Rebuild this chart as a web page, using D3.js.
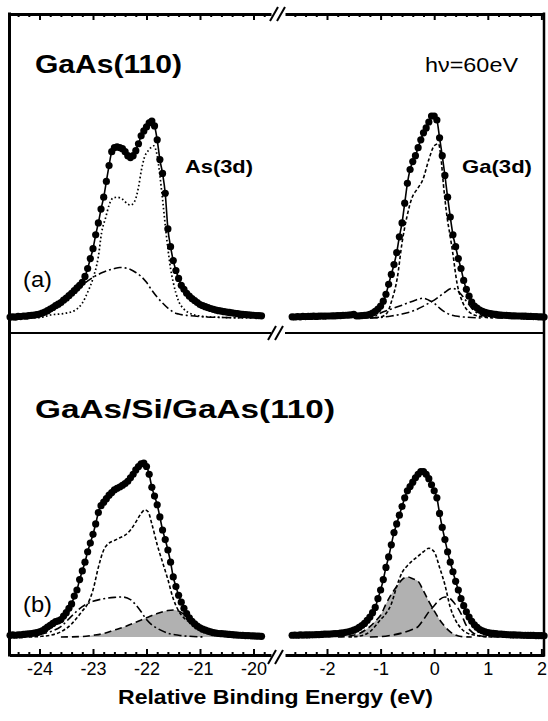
<!DOCTYPE html>
<html>
<head>
<meta charset="utf-8">
<script src="https://cdn.jsdelivr.net/npm/d3@7"></script>
<style>
body { margin: 0; background: #fff; }
text { font-family: "Liberation Sans", Arial, Helvetica, sans-serif; fill: #000; }
</style>
</head>
<body>
<div class="chart"></div>
<script>
// sampling grid of the measured spectra (eV)
var asStart = -24.55, gaStart = -2.65, eStep = 0.05;

// measured intensities (dots), normalised
var asA_data = [.005,.006,.004,.008,.007,.010,.009,.012,.013,.015,.017,.020,.025,.030,.037,.045,.053,.062,.070,.078,
  .090,.100,.113,.125,.138,.152,.165,.18,.21,.25,.30,.35,.42,.48,.55,.61,.69,.77,.84,.86,
  .865,.86,.855,.84,.82,.81,.82,.845,.88,.92,.945,.965,.985,.995,.97,.90,.80,.73,.63,.45,
  .36,.29,.24,.20,.165,.145,.125,.11,.098,.088,.078,.068,.062,.057,.052,.048,.044,.040,.037,.035,
  .032,.030,.028,.026,.024,.022,.020,.018,.017,.016,.015,.014,.012,.012,.011];
var gaA_data = [.006,.005,.007,.006,.008,.007,.008,.008,.009,.008,.009,.010,.009,.010,.010,.011,.011,.012,.012,.013,
  .014,.015,.016,.018,.010,.011,.012,.013,.015,.018,.025,.033,.045,.060,.085,.12,.17,.22,.27,.33,
  .41,.48,.58,.68,.75,.79,.82,.86,.90,.935,.96,.99,1.02,1.02,1.00,.91,.82,.72,.61,.51,
  .42,.36,.30,.25,.19,.145,.11,.08,.06,.05,.04,.033,.028,.025,.022,.020,.018,.016,.015,.014,
  .013,.012,.011,.011,.010,.010,.009,.009,.008,.008,.007,.007,.006,.006,.005];
var asB_data = [.010,.012,.010,.013,.012,.015,.016,.018,.020,.022,.025,.030,.036,.045,.057,.067,.078,.088,.093,.100,
  .12,.14,.165,.19,.235,.27,.33,.38,.43,.49,.54,.59,.65,.715,.755,.775,.795,.815,.83,.845,
  .855,.862,.872,.882,.895,.915,.935,.96,.98,.995,1.0,.98,.935,.86,.81,.76,.69,.615,.56,.50,
  .43,.345,.29,.24,.20,.165,.135,.11,.09,.075,.062,.053,.045,.039,.034,.029,.025,.022,.020,.019,
  .018,.016,.015,.014,.012,.011,.010,.009,.008,.008,.007,.006,.005,.005,.004];
var gaB_data = [.010,.011,.010,.012,.011,.012,.012,.013,.013,.014,.014,.015,.016,.016,.017,.018,.019,.020,.022,.024,
  .027,.030,.034,.039,.046,.055,.066,.078,.095,.115,.14,.17,.22,.27,.33,.40,.46,.53,.60,.65,
  .70,.75,.80,.84,.865,.89,.915,.935,.95,.95,.935,.91,.875,.84,.80,.71,.63,.56,.49,.43,
  .375,.32,.27,.22,.18,.145,.115,.09,.07,.055,.043,.036,.030,.026,.023,.021,.019,.017,.016,.015,
  .014,.013,.012,.012,.011,.011,.010,.010,.009,.009,.009,.008,.008,.008,.007];

// fitted components [energy, intensity]
var asA_bulk = [[-24.55,0],[-24.0,.002],[-23.8,.015],[-23.5,.025],[-23.33,.04],[-23.2,.075],[-23.1,.13],[-23.0,.20],[-22.9,.31],
  [-22.84,.43],[-22.76,.51],[-22.7,.57],[-22.63,.605],[-22.55,.61],[-22.45,.60],[-22.35,.575],[-22.3,.57],[-22.22,.59],
  [-22.15,.66],[-22.1,.74],[-22.04,.81],[-21.95,.85],[-21.87,.87],[-21.8,.82],[-21.75,.72],[-21.7,.60],[-21.65,.47],
  [-21.6,.35],[-21.55,.25],[-21.5,.18],[-21.45,.125],[-21.4,.085],[-21.3,.045],[-21.2,.025],[-21.0,.01],[-20.6,.003],[-20.0,0]];
var asA_surf = [[-24.45,.005],[-24.2,.012],[-24.0,.025],[-23.8,.045],[-23.6,.075],[-23.4,.11],[-23.2,.165],[-23.0,.205],
  [-22.8,.232],[-22.6,.25],[-22.5,.255],[-22.4,.253],[-22.3,.245],[-22.2,.23],[-22.1,.21],[-22.0,.18],[-21.9,.14],
  [-21.8,.105],[-21.7,.076],[-21.6,.05],[-21.5,.03],[-21.4,.02],[-21.2,.012],[-21.0,.007],[-20.6,.003],[-20.2,.001]];
var gaA_bulk = [[-1.2,0],[-1.0,.005],[-0.88,.025],[-0.79,.09],[-0.69,.2],[-0.6,.38],[-0.51,.51],[-0.41,.61],[-0.32,.65],
  [-0.21,.70],[-0.1,.80],[0.0,.87],[0.08,.88],[0.13,.80],[0.17,.68],[0.24,.51],[0.3,.41],[0.34,.34],[0.43,.17],
  [0.53,.08],[0.68,.025],[0.85,.008],[1.1,0]];
var gaA_surf1 = [[-1.3,0],[-1.1,.01],[-1.0,.025],[-0.8,.045],[-0.6,.065],[-0.4,.085],[-0.3,.095],[-0.2,.10],[-0.1,.09],
  [0,.075],[0.1,.05],[0.2,.03],[0.3,.017],[0.4,.01],[0.6,.004],[0.9,0]];
var gaA_surf2 = [[-1.2,0],[-1.0,.003],[-0.8,.01],[-0.6,.02],[-0.4,.035],[-0.2,.06],[-0.1,.075],[0,.09],[0.1,.11],[0.2,.13],
  [0.3,.148],[0.35,.15],[0.4,.145],[0.5,.12],[0.6,.085],[0.7,.05],[0.8,.025],[0.9,.012],[1.0,.005],[1.3,0]];
var asB_bulk = [[-24.2,0],[-24.0,.003],[-23.8,.01],[-23.6,.03],[-23.4,.075],[-23.3,.11],[-23.2,.15],[-23.1,.19],[-23.0,.27],
  [-22.9,.40],[-22.8,.50],[-22.7,.54],[-22.6,.555],[-22.5,.57],[-22.4,.585],[-22.3,.615],[-22.2,.66],[-22.1,.71],
  [-22.03,.73],[-21.97,.72],[-21.9,.65],[-21.8,.53],[-21.7,.43],[-21.6,.33],[-21.5,.22],[-21.4,.15],[-21.3,.11],
  [-21.2,.085],[-21.1,.06],[-21.0,.04],[-20.8,.015],[-20.6,.005],[-20.3,0]];
var asB_surf = [[-24.3,0],[-24.2,.005],[-24.0,.015],[-23.8,.03],[-23.6,.06],[-23.4,.12],[-23.2,.175],[-23.0,.205],[-22.8,.22],
  [-22.6,.228],[-22.45,.23],[-22.3,.215],[-22.2,.185],[-22.1,.145],[-22.0,.10],[-21.9,.07],[-21.8,.05],[-21.6,.022],
  [-21.4,.01],[-21.2,.004],[-20.9,0]];
var asB_shade = [[-23.6,0],[-23.2,.003],[-23.0,.01],[-22.8,.02],[-22.6,.04],[-22.4,.06],[-22.2,.085],[-22.0,.11],[-21.8,.135],
  [-21.6,.152],[-21.5,.155],[-21.4,.15],[-21.3,.13],[-21.2,.105],[-21.1,.08],[-21.0,.06],[-20.9,.04],[-20.8,.022],
  [-20.6,.008],[-20.4,.002],[-20.1,0]];
var gaB_bulk = [[-1.6,0],[-1.4,.005],[-1.2,.03],[-1.0,.10],[-0.9,.135],[-0.8,.19],[-0.7,.29],[-0.6,.37],[-0.5,.41],[-0.4,.44],
  [-0.3,.465],[-0.2,.49],[-0.1,.51],[0,.49],[0.1,.40],[0.2,.30],[0.3,.17],[0.4,.095],[0.5,.05],[0.6,.025],[0.8,.008],[1.1,0]];
var gaB_surf = [[-1.2,0],[-1.0,.002],[-0.8,.01],[-0.6,.023],[-0.4,.045],[-0.3,.06],[-0.2,.10],[-0.1,.145],[0,.18],[0.1,.215],
  [0.2,.23],[0.3,.22],[0.4,.185],[0.5,.135],[0.6,.065],[0.7,.03],[0.8,.012],[1.0,.002],[1.3,0]];
var gaB_shade = [[-1.8,0],[-1.6,.005],[-1.4,.02],[-1.2,.06],[-1.07,.10],[-1.0,.125],[-0.9,.19],[-0.8,.245],[-0.7,.29],
  [-0.6,.33],[-0.5,.345],[-0.4,.335],[-0.3,.32],[-0.2,.265],[-0.1,.205],[0,.15],[0.1,.10],[0.2,.06],[0.3,.03],
  [0.4,.012],[0.5,.003],[0.7,0]];

var leftTicks = [-24, -23, -22, -21, -20];
var rightTicks = [-2, -1, 0, 1, 2];

var svg = d3.select(".chart").append("svg")
    .attr("width", 548)
    .attr("height", 721);

// scales
var xL = d3.scaleLinear().domain([-24, -20]).range([39.5, 253.5]);
var xR = d3.scaleLinear().domain([-2, 2]).range([327, 541.4]);
var yA = d3.scaleLinear().domain([0, 1]).range([318, 120]);
var yB = d3.scaleLinear().domain([0, 1]).range([637, 463]);

var frame = {left: 9.5, right: 544, top: 14, mid: 333, bottom: 655, gapL: 271, gapR: 285};

function toPoints(vals, start){
    return vals.map(function(v, i){ return [start + i*eStep, v]; });
}

function drawPanel(x, y, data, start, comps, shade){
    var line = d3.line()
        .x(function(d){ return x(d[0]); })
        .y(function(d){ return y(d[1]); })
        .curve(d3.curveMonotoneX);

    if (shade) {
        var area = d3.area()
            .x(function(d){ return x(d[0]); })
            .y0(y(0))
            .y1(function(d){ return y(d[1]); })
            .curve(d3.curveMonotoneX);
        svg.append("path")
            .attr("d", area(shade))
            .attr("fill", "#b1b1b1");
        svg.append("path")
            .attr("d", line(shade))
            .attr("fill", "none")
            .attr("stroke", "#000")
            .attr("stroke-width", 1.6)
            .attr("stroke-dasharray", "7,4");
    }

    comps.forEach(function(c){
        svg.append("path")
            .attr("d", line(c.pts))
            .attr("fill", "none")
            .attr("stroke", "#000")
            .attr("stroke-width", c.w)
            .attr("stroke-dasharray", c.dash);
    });

    var pts = toPoints(data, start);
    svg.append("path")
        .attr("d", line(pts))
        .attr("fill", "none")
        .attr("stroke", "#000")
        .attr("stroke-width", 1.6);

    svg.selectAll(null)
        .data(pts)
        .enter().append("circle")
        .attr("cx", function(d){ return x(d[0]); })
        .attr("cy", function(d){ return y(d[1]); })
        .attr("r", 3.6)
        .attr("fill", "#000");
}

var dotted = "1.6,2.4", shortDash = "3.5,2.2", dashDot = "8,3,2,3";

drawPanel(xL, yA, asA_data, asStart, [
    {pts: asA_bulk, dash: dotted, w: 1.7},
    {pts: asA_surf, dash: dashDot, w: 1.6}
]);
drawPanel(xR, yA, gaA_data, gaStart, [
    {pts: gaA_bulk, dash: shortDash, w: 1.6},
    {pts: gaA_surf1, dash: dashDot, w: 1.6},
    {pts: gaA_surf2, dash: dashDot, w: 1.6}
]);
drawPanel(xL, yB, asB_data, asStart, [
    {pts: asB_bulk, dash: shortDash, w: 1.6},
    {pts: asB_surf, dash: dashDot, w: 1.6}
], asB_shade);
drawPanel(xR, yB, gaB_data, gaStart, [
    {pts: gaB_bulk, dash: shortDash, w: 1.6},
    {pts: gaB_surf, dash: "8,4", w: 1.6}
], gaB_shade);

// axes: left and right segments of the broken energy scale
var xLaxis = xL.copy().domain([xL.invert(frame.left), xL.invert(frame.gapL)]).range([frame.left, frame.gapL]);
var xRaxis = xR.copy().domain([xR.invert(frame.gapR), xR.invert(frame.right)]).range([frame.gapR, frame.right]);

function minorTicks(sc){
    var dom = sc.domain();
    var out = [];
    for (var v = Math.ceil(dom[0]*5)/5; v <= dom[1]; v += 0.2) {
        var r = Math.round(v*10)/10;
        if (Math.abs(r - Math.round(r)) > 0.01) out.push(r);
    }
    return out;
}

function addAxis(sc, majors, yPos, isBottom){
    var mk = isBottom ? d3.axisBottom : d3.axisTop;
    var major = mk(sc).tickValues(majors).tickSizeInner(-6).tickSizeOuter(0)
        .tickPadding(7)
        .tickFormat(isBottom ? function(d){ return String(d); } : "");
    var minor = mk(sc).tickValues(minorTicks(sc)).tickSizeInner(-3).tickSizeOuter(0).tickFormat("");

    var g = svg.append("g")
        .attr("class", "x axis")
        .attr("transform", "translate(0," + yPos + ")")
        .call(major);
    g.select(".domain").attr("stroke-width", 3);
    g.selectAll(".tick line").attr("stroke-width", 2);
    g.selectAll("text")
        .style("font-size", "18px")
        .style("font-family", "'Liberation Sans', Arial, sans-serif");

    var g2 = svg.append("g")
        .attr("transform", "translate(0," + yPos + ")")
        .call(minor);
    g2.select(".domain").remove();
    g2.selectAll(".tick line").attr("stroke-width", 2);
}

addAxis(xLaxis, leftTicks, frame.bottom, true);
addAxis(xRaxis, rightTicks, frame.bottom, true);
addAxis(xLaxis, leftTicks, frame.top, false);
addAxis(xRaxis, rightTicks, frame.top, false);

// frame
svg.append("line")
    .attr("x1", frame.left).attr("x2", frame.left)
    .attr("y1", frame.top - 1.5).attr("y2", frame.bottom + 1.5)
    .attr("stroke", "#000").attr("stroke-width", 3);
svg.append("line")
    .attr("x1", frame.right).attr("x2", frame.right)
    .attr("y1", frame.top - 1.5).attr("y2", frame.bottom + 1.5)
    .attr("stroke", "#000").attr("stroke-width", 2.5);
[[frame.left, frame.gapL], [frame.gapR, frame.right]].forEach(function(seg){
    svg.append("line")
        .attr("x1", seg[0]).attr("x2", seg[1])
        .attr("y1", frame.mid).attr("y2", frame.mid)
        .attr("stroke", "#000").attr("stroke-width", 2);
});

// break marks
function breakMark(cx, cy){
    [-4, 3].forEach(function(off){
        svg.append("line")
            .attr("x1", cx + off - 4).attr("y1", cy + 7)
            .attr("x2", cx + off + 4).attr("y2", cy - 7)
            .attr("stroke", "#000").attr("stroke-width", 2);
    });
}
breakMark(278, frame.top);
breakMark(276, frame.mid);
breakMark(276, frame.bottom + 2);

// labels
function label(txt, x, y, size, weight, len, anchor){
    svg.append("text")
        .attr("x", x).attr("y", y)
        .attr("text-anchor", anchor || "start")
        .attr("textLength", len)
        .attr("lengthAdjust", "spacingAndGlyphs")
        .style("font-size", size + "px")
        .style("font-weight", weight)
        .text(txt);
}
label("GaAs(110)", 35, 73, 26, "bold", 147);
label("h\u03bd=60eV", 425, 72, 20, "normal", 93);
label("As(3d)", 185, 173, 19, "bold", 68);
label("Ga(3d)", 462, 173, 19, "bold", 70);
label("(a)", 23, 287, 22, "normal", 29);
label("GaAs/Si/GaAs(110)", 35, 418, 26, "bold", 300);
label("(b)", 23, 612, 22, "normal", 29);
label("Relative Binding Energy (eV)", 275.5, 704, 21, "bold", 315, "middle");
</script>
</body>
</html>
